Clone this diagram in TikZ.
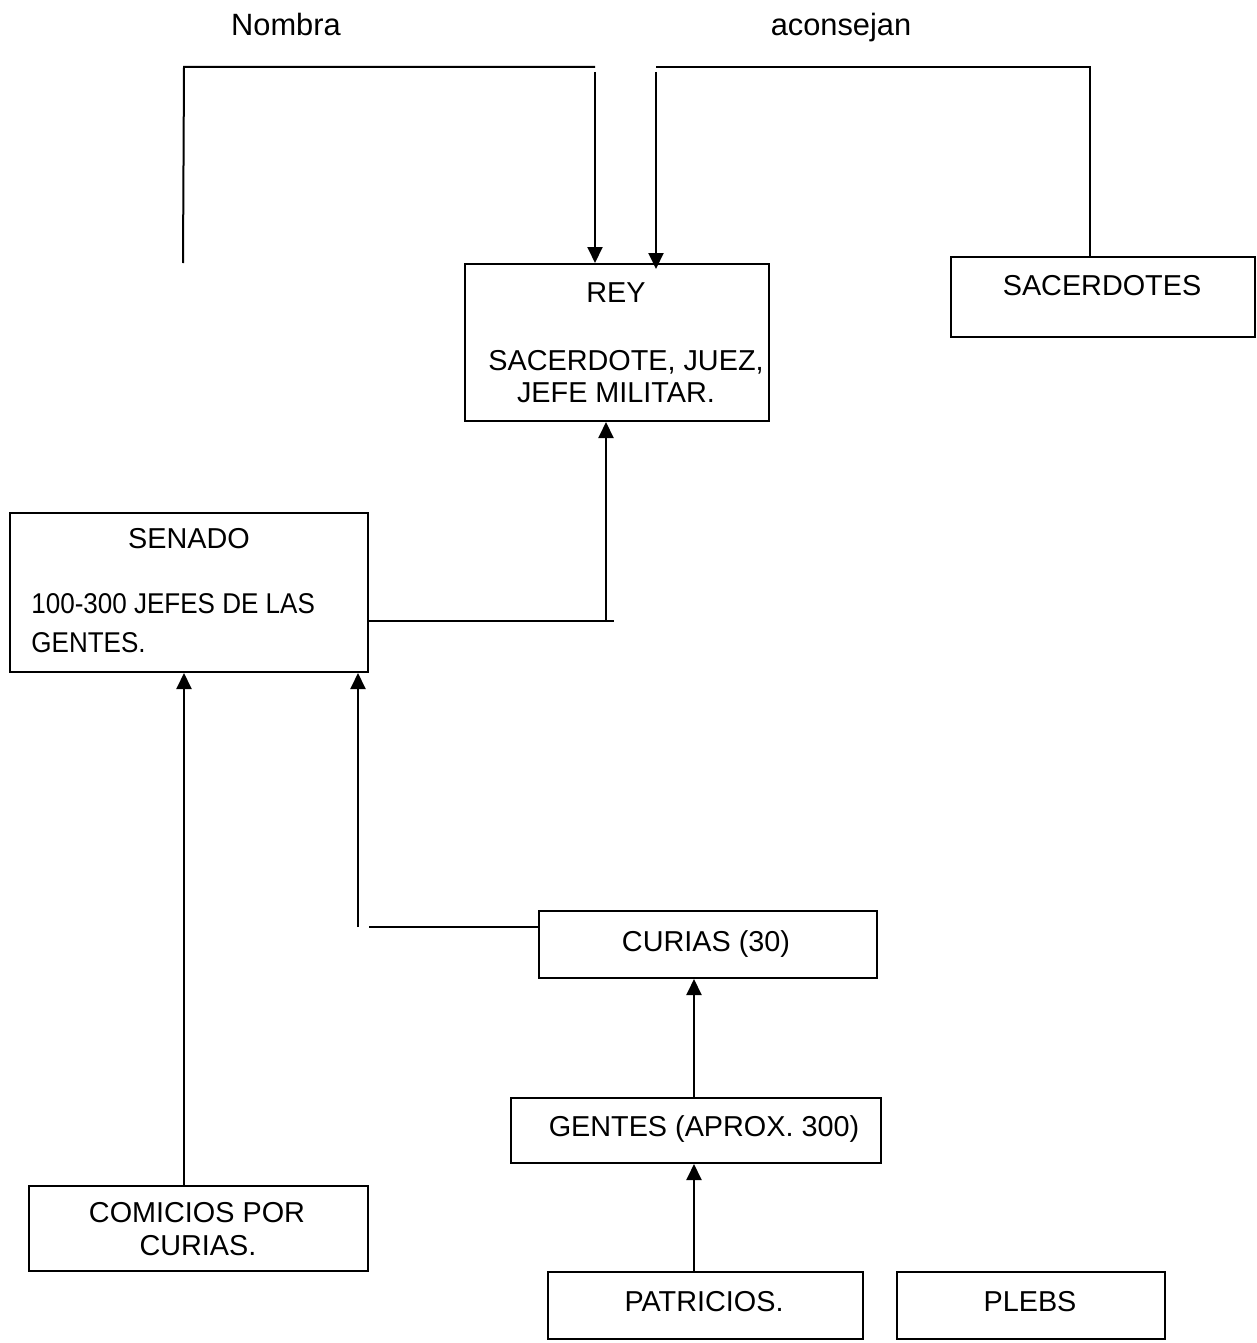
\documentclass[tikz,border=0pt]{standalone}
\usepackage{fontspec}
\setmainfont{Liberation Sans}
\newfontfamily\narrowsans[FakeStretch=0.91]{Liberation Sans}
\usetikzlibrary{arrows.meta}
\begin{document}
\begin{tikzpicture}[x=0.5pt,y=-0.5pt,
  box/.style={draw,line width=1pt,inner sep=0pt,anchor=north west},
  txt/.style={inner sep=0pt,anchor=base,font=\fontsize{14.4}{17}\selectfont},
  small/.style={inner sep=0pt,anchor=base west,font=\narrowsans\fontsize{14.3}{17}\selectfont},
  lbl/.style={inner sep=0pt,anchor=base,font=\fontsize{15.4}{18}\selectfont},
  wire/.style={line width=1pt},
  arr/.style={line width=1pt,-{Triangle[width=7.5pt,length=8pt]}}]
\useasboundingbox (0,0) rectangle (1257,1343);

% boxes
\node[box,minimum width=152pt,minimum height=78.5pt] (rey) at (464,263) {};
\node[box,minimum width=152pt,minimum height=40pt] (sac) at (950,256) {};
\node[box,minimum width=179pt,minimum height=79.5pt] (senado) at (9,512) {};
\node[box,minimum width=169pt,minimum height=33.5pt] (curias) at (538,910) {};
\node[box,minimum width=185pt,minimum height=32.5pt] (gentes) at (510,1097) {};
\node[box,minimum width=169.5pt,minimum height=42.5pt] (comicios) at (28,1185) {};
\node[box,minimum width=157.5pt,minimum height=33.5pt] (patricios) at (547,1271) {};
\node[box,minimum width=134pt,minimum height=33.5pt] (plebs) at (896,1271) {};

% texts
\node[lbl] (tnombra) at (286,36) {Nombra};
\node[lbl] (taconsejan) at (841,36) {aconsejan};
\node[txt] (trey) at (616,302) {REY};
\node[txt] (trey2) at (626,370) {SACERDOTE, JUEZ,};
\node[txt] (trey3) at (616,402) {JEFE MILITAR.};
\node[txt] (tsac) at (1102,295) {SACERDOTES};
\node[txt] (tsen) at (189,548) {SENADO};
\node[small] (tsen2) at (31,613) {100-300 JEFES DE LAS};
\node[small] (tsen3) at (31,652) {GENTES.};
\node[txt] (tcur) at (706,951) {CURIAS (30)};
\node[txt] (tgen) at (704,1136) {GENTES (APROX. 300)};
\node[txt] (tcom) at (197,1222) {COMICIOS POR};
\node[txt] (tcom2) at (198,1255) {CURIAS.};
\node[txt] (tpat) at (704,1311) {PATRICIOS.};
\node[txt] (tple) at (1030,1311) {PLEBS};

% king is appointed / advised
\coordinate (nb) at (183,263);
\coordinate (nt) at (184,67);
\coordinate (nr) at (595,67);
\draw[wire] (nb) -- (nt) -- (nr);
\draw[arr] (595,72) -- (595,263);
\coordinate (ar) at (1090,67);
\draw[wire] (sac.north -| ar) -- (ar) -- (656,67);
\draw[arr] (656,72) -- (656,269);

% senate advises king
\coordinate (sr) at (614,621);
\draw[wire] (senado.east |- sr) -- (sr);
\draw[arr] (606,621) -- (rey.south -| 606,0);

% assemblies and curiae feed the senate
\draw[arr] (comicios.north -| 184,0) -- (senado.south -| 184,0);
\coordinate (cl) at (369,927);
\draw[wire] (curias.west |- cl) -- (cl);
\draw[arr] (358,927) -- (senado.south -| 358,0);

% gentes and patricians
\draw[arr] (gentes.north -| 694,0) -- (curias.south -| 694,0);
\draw[arr] (patricios.north -| 694,0) -- (gentes.south -| 694,0);
\end{tikzpicture}
\end{document}
